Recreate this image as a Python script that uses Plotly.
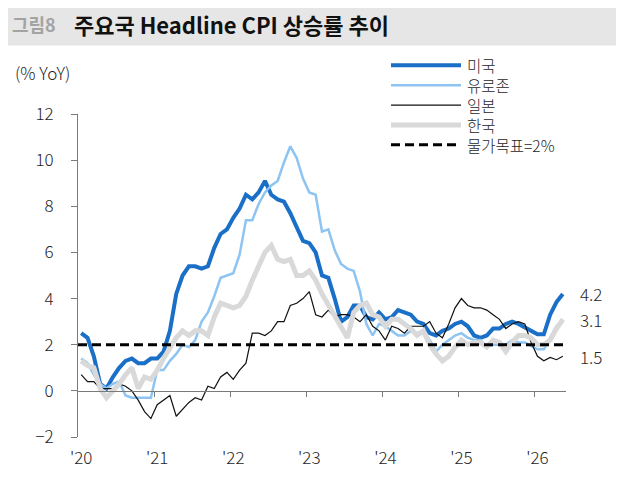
import plotly.graph_objects as go

# ---------------- data (monthly, Jan 2020 .. May 2026) ----------------
us = [2.5, 2.3, 1.5, 0.3, 0.1, 0.6, 1.0, 1.3, 1.4, 1.2, 1.2, 1.4,
      1.4, 1.7, 2.6, 4.2, 5.0, 5.4, 5.4, 5.3, 5.4, 6.2, 6.8, 7.0,
      7.5, 7.9, 8.5, 8.3, 8.6, 9.1, 8.5, 8.3, 8.2, 7.7, 7.1, 6.5,
      6.4, 6.0, 5.0, 4.9, 4.0, 3.0, 3.2, 3.7, 3.7, 3.2, 3.1, 3.4,
      3.1, 3.2, 3.5, 3.4, 3.3, 3.0, 2.9, 2.5, 2.4, 2.6, 2.7, 2.9,
      3.0, 2.8, 2.4, 2.3, 2.4, 2.7, 2.7, 2.9, 3.0, 2.9, 2.75, 2.6,
      2.45, 2.45, 3.3, 3.85, 4.2]
eurozone = [1.4, 1.2, 0.7, 0.3, 0.1, 0.3, 0.4, -0.2, -0.3, -0.3, -0.3, -0.3,
            0.9, 0.9, 1.3, 1.6, 2.0, 1.9, 2.2, 3.0, 3.4, 4.1, 4.9, 5.0,
            5.1, 5.9, 7.4, 7.4, 8.1, 8.6, 8.9, 9.1, 9.9, 10.6, 10.1, 9.2,
            8.6, 8.5, 6.9, 7.0, 6.1, 5.5, 5.3, 5.2, 4.3, 2.9, 2.4, 2.9,
            2.8, 2.6, 2.4, 2.4, 2.6, 2.5, 2.6, 2.2, 1.7, 2.0, 2.2, 2.4,
            2.5, 2.3, 2.2, 2.2, 1.9, 2.0, 2.0, 2.0, 2.2, 2.1, 2.1, 1.95,
            1.8, 1.8, 2.3, 2.8, 3.1]
japan = [0.7, 0.4, 0.4, 0.1, 0.1, 0.1, 0.3, 0.2, 0.0, -0.4, -0.9, -1.2,
         -0.6, -0.4, -0.2, -1.1, -0.8, -0.5, -0.3, -0.4, 0.2, 0.1, 0.6, 0.8,
         0.5, 0.9, 1.2, 2.5, 2.5, 2.4, 2.6, 3.0, 3.0, 3.7, 3.8, 4.0,
         4.3, 3.3, 3.2, 3.5, 3.2, 3.3, 3.3, 3.2, 3.0, 3.3, 2.8, 2.6,
         2.2, 2.8, 2.7, 2.5, 2.8, 2.8, 2.8, 3.0, 2.5, 2.3, 2.9, 3.6,
         4.0, 3.7, 3.6, 3.6, 3.5, 3.3, 3.1, 2.7, 2.9, 3.0, 2.9, 2.1,
         1.5, 1.3, 1.45, 1.35, 1.5]
korea = [1.3, 1.1, 1.0, 0.1, -0.3, 0.0, 0.3, 0.7, 1.0, 0.1, 0.6, 0.5,
         0.9, 1.4, 1.9, 2.3, 2.6, 2.4, 2.6, 2.6, 2.4, 3.2, 3.8, 3.7,
         3.6, 3.7, 4.1, 4.8, 5.4, 6.0, 6.3, 5.7, 5.6, 5.7, 5.0, 5.0,
         5.2, 4.8, 4.2, 3.7, 3.3, 2.7, 2.3, 3.4, 3.7, 3.8, 3.3, 3.2,
         2.8, 3.1, 3.1, 2.9, 2.7, 2.4, 2.6, 2.0, 1.6, 1.3, 1.5, 1.9,
         2.2, 2.0, 2.1, 2.1, 1.9, 2.2, 2.1, 1.7, 2.1, 2.4, 2.4, 2.3,
         2.0, 2.0, 2.2, 2.7, 3.1]
target = 2.0

months = list(range(len(us)))
year_ticks = [0, 12, 24, 36, 48, 60, 72]
year_labels = ["'20", "'21", "'22", "'23", "'24", "'25", "'26"]
year_bounds = [11.5, 23.5, 35.5, 47.5, 59.5, 71.5]
y_ticks = [-2, 0, 2, 4, 6, 8, 10, 12]

series_names = ["미국", "유로존", "일본", "한국", "물가목표=2%"]
end_label_values = [us[-1], eurozone[-1], japan[-1]]

# ---------------- styles ----------------
FONT = "Noto Sans CJK KR, Noto Sans, sans-serif"
colors = ["#1a6fc6", "#8dc4f2", "#111111", "#d9d9d9", "#000000"]
widths = [4, 2.5, 1.2, 5, 3]
TXT = "#262626"

# the page body adds an 8px offset; the figure is sized to fit the window
OFF = 8
W, H = 624 - OFF, 481 - OFF
PLOT_L, PLOT_R, PLOT_T, PLOT_B = 78, 566, 114, 439   # in window pixels
ML, MT = PLOT_L - OFF, PLOT_T - OFF
MR, MB = W - (PLOT_R - OFF), H - (PLOT_B - OFF)
PW, PH = PLOT_R - PLOT_L, PLOT_B - PLOT_T


def px(xp):
    return (xp - PLOT_L) / PW


def py(yp):
    return (PLOT_B - yp) / PH


fig = go.Figure()
series = [us, eurozone, japan, korea]
for name, vals, c, w in zip(series_names[:4], series, colors[:4], widths[:4]):
    fig.add_trace(go.Scatter(x=months, y=vals, mode="lines", name=name,
                             line=dict(color=c, width=w), showlegend=False,
                             hoverinfo="skip"))
fig.add_trace(go.Scatter(x=[months[0] - 0.5, months[-1] + 0.5], y=[target, target],
                         mode="lines", name=series_names[4], xaxis="x2",
                         line=dict(color=colors[4], width=widths[4], dash="9px,5px"),
                         showlegend=False, hoverinfo="skip"))

xr = [months[0] - 0.5, months[-1] + 0.5]
fig.update_layout(
    width=W, height=H, margin=dict(l=ML, r=MR, t=MT, b=MB, pad=0),
    paper_bgcolor="white", plot_bgcolor="white",
    font=dict(family=FONT, size=17, color=TXT, weight=300),
    xaxis=dict(range=xr, showgrid=False, zeroline=False, showline=False,
               tickvals=year_ticks, ticktext=year_labels, ticks="",
               ticklabelstandoff=9, tickfont=dict(size=17, color=TXT, weight=300)),
    xaxis2=dict(range=xr, overlaying="x", anchor="free", position=2 / 14,
                showgrid=False, zeroline=False, showline=True,
                linecolor="#7a7a7a", linewidth=1, ticks="outside", ticklen=5,
                tickcolor="#7a7a7a", tickvals=year_bounds, showticklabels=False),
    yaxis=dict(range=[-2, 12], showgrid=False, zeroline=False, showline=True,
               linecolor="#7a7a7a", linewidth=1, ticks="outside", ticklen=6,
               tickcolor="#7a7a7a", tickvals=y_ticks, ticklabelstandoff=14,
               tickfont=dict(size=17, color=TXT, weight=300)),
)

shapes = []
annotations = []
# title band
shapes.append(dict(type="rect", xref="paper", yref="paper",
                   x0=px(3), x1=px(630), y0=py(45), y1=py(-10),
                   fillcolor="#e6e6e6", line=dict(width=0), layer="below"))
annotations.append(dict(xref="paper", yref="paper", x=px(10), y=py(23),
                        xanchor="left", yanchor="middle", showarrow=False,
                        text="<b>그림8</b>",
                        font=dict(family=FONT, size=18, color="#a3a3a3")))
annotations.append(dict(xref="paper", yref="paper", x=px(72), y=py(23),
                        xanchor="left", yanchor="middle", showarrow=False,
                        text="<b>주요국 Headline CPI 상승률 추이</b>",
                        font=dict(family=FONT, size=22, color="#111111")))
# unit label
annotations.append(dict(xref="paper", yref="paper", x=px(13), y=py(72),
                        xanchor="left", yanchor="middle", showarrow=False,
                        text="(% YoY)", font=dict(size=17, color=TXT, weight=300)))
# legend
leg_rows = [65, 85, 105, 125, 145]
for name, c, w, ry in zip(series_names, colors, widths, leg_rows):
    line = dict(color=c, width=w)
    if name == series_names[4]:
        line["dash"] = "9px,5px"
    shapes.append(dict(type="line", xref="paper", yref="paper",
                       x0=px(391), x1=px(461), y0=py(ry), y1=py(ry), line=line))
    annotations.append(dict(xref="paper", yref="paper", x=px(465), y=py(ry),
                            xanchor="left", yanchor="middle", showarrow=False,
                            text=name, font=dict(size=15.5, color=TXT, weight=300)))
# end labels
for v in end_label_values:
    annotations.append(dict(x=months[-1], y=v, xref="x", yref="y", xshift=15,
                            xanchor="left", yanchor="middle", showarrow=False,
                            text=f"{v:.1f}", font=dict(size=17, color=TXT, weight=300)))

fig.update_layout(shapes=shapes, annotations=annotations)
fig.write_html("out.html")
